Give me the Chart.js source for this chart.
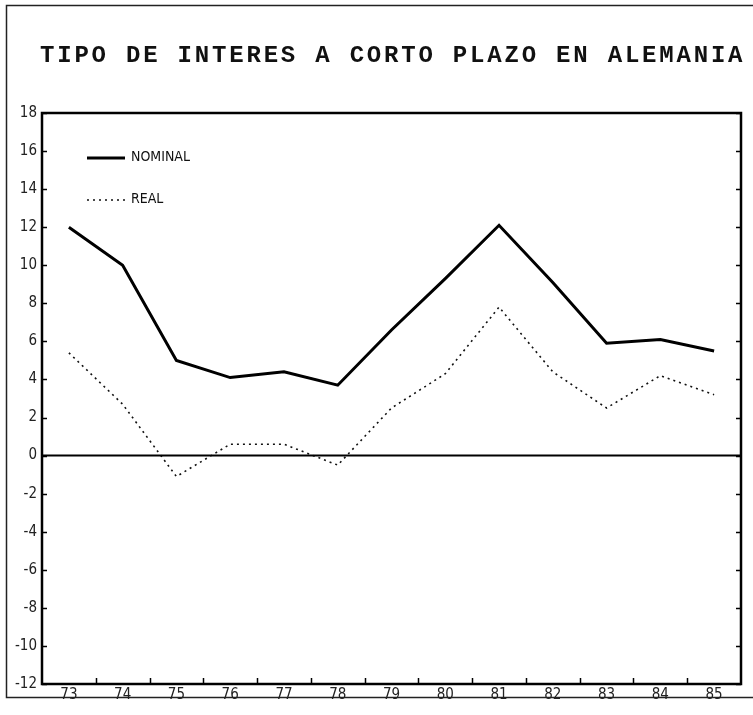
<!DOCTYPE html>
<html>
<head>
<meta charset="utf-8">
<script src="https://cdn.jsdelivr.net/npm/chart.js@4"></script>
<style>
  html, body { margin: 0; padding: 0; background: #fff; }
  #wrap { position: relative; width: 753px; height: 715px; }
  #chart { position: absolute; left: 0; top: 0; }
  #title {
    position: absolute; left: 40px; top: 42px;
    font: bold 24px "Liberation Mono", "DejaVu Sans Mono", monospace;
    letter-spacing: 2.8px; color: #111; white-space: nowrap;
  }
</style>
</head>
<body>
<div id="wrap">
  <canvas id="chart" width="753" height="715"></canvas>
  <div id="title">TIPO DE INTERES A CORTO PLAZO EN ALEMANIA</div>
</div>
<script>
const years = ["73", "74", "75", "76", "77", "78", "79", "80", "81", "82", "83", "84", "85"];
const nominal = [12.0, 10.0, 5.0, 4.1, 4.4, 3.7, 6.6, 9.3, 12.1, 9.1, 5.9, 6.1, 5.5];
const real = [5.4, 2.7, -1.1, 0.6, 0.6, -0.5, 2.5, 4.3, 7.8, 4.4, 2.5, 4.2, 3.2];
const seriesNames = ["NOMINAL", "REAL"];

const narrow = "'DejaVu Sans Condensed', 'Liberation Sans Narrow', 'DejaVu Sans', sans-serif";
const tickFont = { family: narrow, size: 15 };

// frame, inner ticks, zero line and the legend inside the plot
const decor = {
  id: "decor",
  beforeDraw(chart) {
    const ctx = chart.ctx;
    ctx.save();
    ctx.fillStyle = "#fff";
    ctx.fillRect(0, 0, chart.width, chart.height);
    ctx.strokeStyle = "#222";
    ctx.lineWidth = 1.5;
    ctx.strokeRect(6.5, 5.5, chart.width + 10, 692);
    ctx.restore();
  },
  afterDatasetsDraw(chart) {
    const ctx = chart.ctx;
    const a = chart.chartArea;
    const x = chart.scales.x, y = chart.scales.y;
    ctx.save();
    ctx.strokeStyle = "#000";
    ctx.lineWidth = 1.5;
    y.ticks.forEach(t => {
      const py = Math.round(y.getPixelForValue(t.value)) + 0.5;
      ctx.beginPath();
      ctx.moveTo(a.left, py); ctx.lineTo(a.left + 5, py);
      ctx.moveTo(a.right, py); ctx.lineTo(a.right - 5, py);
      ctx.stroke();
    });
    for (let i = 1; i < years.length; i++) {
      const px = Math.round((x.getPixelForValue(i - 1) + x.getPixelForValue(i)) / 2) + 0.5;
      ctx.beginPath();
      ctx.moveTo(px, a.bottom); ctx.lineTo(px, a.bottom - 6);
      ctx.stroke();
    }
    // zero line
    const z = y.getPixelForValue(0);
    ctx.lineWidth = 2;
    ctx.beginPath();
    ctx.moveTo(a.left, z); ctx.lineTo(a.right, z);
    ctx.stroke();
    // plot border
    ctx.lineWidth = 2.5;
    ctx.strokeRect(a.left, a.top, a.right - a.left, a.bottom - a.top);
    // legend
    ctx.font = "14px " + narrow;
    ctx.fillStyle = "#111";
    ctx.textBaseline = "middle";
    chart.data.datasets.forEach((ds, i) => {
      const ly = a.top + 45 + i * 42;
      ctx.strokeStyle = ds.borderColor;
      ctx.lineWidth = ds.borderWidth;
      ctx.setLineDash(ds.borderDash || []);
      ctx.beginPath();
      ctx.moveTo(a.left + 45, ly); ctx.lineTo(a.left + 83, ly);
      ctx.stroke();
      ctx.setLineDash([]);
      ctx.fillText(ds.label, a.left + 89, ly - 1);
    });
    ctx.restore();
  }
};

new Chart(document.getElementById("chart"), {
  type: "line",
  data: {
    labels: years,
    datasets: [
      {
        label: seriesNames[0],
        data: nominal,
        borderColor: "#000",
        borderWidth: 3,
        pointRadius: 0,
        tension: 0,
      },
      {
        label: seriesNames[1],
        data: real,
        borderColor: "#111",
        borderWidth: 1.6,
        borderDash: [2, 4],
        pointRadius: 0,
        tension: 0,
      },
    ],
  },
  options: {
    responsive: false,
    animation: false,
    layout: { padding: { top: 113, right: 12, bottom: 4, left: 0 } },
    plugins: { legend: { display: false }, title: { display: false }, tooltip: { enabled: false } },
    scales: {
      x: {
        offset: true,
        grid: { display: false, drawTicks: false },
        border: { display: false },
        ticks: { color: "#222", font: tickFont, padding: 2, maxRotation: 0 },
        afterFit(scale) { scale.height = 27; },
      },
      y: {
        min: -12,
        max: 18,
        grid: { display: false, drawTicks: false },
        border: { display: false },
        ticks: { stepSize: 2, color: "#222", font: tickFont, padding: 5 },
        afterFit(scale) { scale.width = 42; },
      },
    },
  },
  plugins: [decor],
});
</script>
</body>
</html>
